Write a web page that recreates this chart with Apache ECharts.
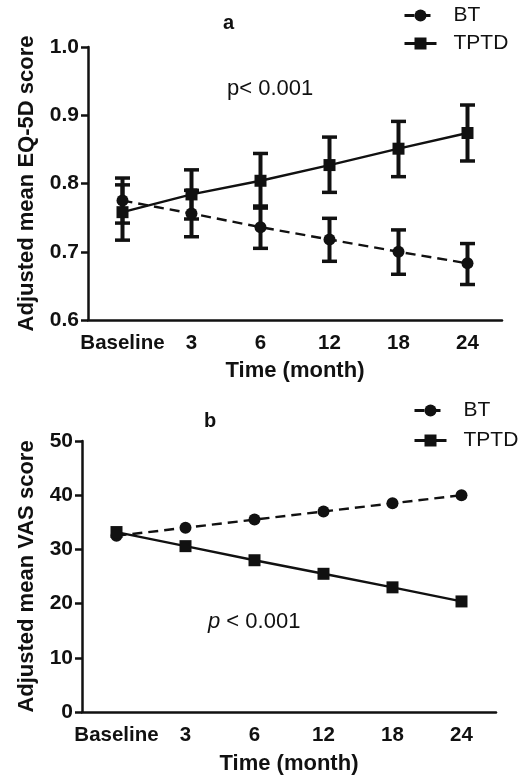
<!DOCTYPE html>
<html>
<head>
<meta charset="utf-8">
<script src="https://cdn.jsdelivr.net/npm/echarts@6/dist/echarts.min.js"></script>
<style>
html,body{margin:0;padding:0;background:#fff;}
#c{width:518px;height:776px;}
</style>
</head>
<body>
<div id="c"></div>
<script>
const categories = ['Baseline', '3', '6', '12', '18', '24'];
// Panel a: EQ-5D
const btA = [0.775, 0.756, 0.736, 0.718, 0.700, 0.683];
const btALow = [0.742, 0.722, 0.705, 0.686, 0.667, 0.652];
const btAHigh = [0.808, 0.790, 0.767, 0.749, 0.732, 0.712];
const tptdA = [0.758, 0.784, 0.804, 0.827, 0.851, 0.874];
const tptdALow = [0.717, 0.748, 0.764, 0.787, 0.810, 0.833];
const tptdAHigh = [0.798, 0.820, 0.844, 0.868, 0.891, 0.915];
// Panel b: VAS
const btB = [32.5, 34.0, 35.5, 37.0, 38.5, 40.0];
const tptdB = [33.2, 30.6, 28.0, 25.5, 23.0, 20.4];
const yTicksA = [0.6, 0.7, 0.8, 0.9, 1.0];
const yTicksB = [0, 10, 20, 30, 40, 50];

const FONT = '"Liberation Sans", Arial, sans-serif';
const INK = '#111';

function errData(low, high){ return low.map((l,i)=>[i, l, high[i]]); }
function renderErr(params, api){
  const x = api.value(0);
  const pLo = api.coord([x, api.value(1)]);
  const pHi = api.coord([x, api.value(2)]);
  const hw = 7.5;
  return {type:'group', children:[
    {type:'line', shape:{x1:pLo[0], y1:pLo[1], x2:pHi[0], y2:pHi[1]}, style:{stroke:INK, lineWidth:4}},
    {type:'line', shape:{x1:pLo[0]-hw, y1:pLo[1], x2:pLo[0]+hw, y2:pLo[1]}, style:{stroke:INK, lineWidth:3.5}},
    {type:'line', shape:{x1:pHi[0]-hw, y1:pHi[1], x2:pHi[0]+hw, y2:pHi[1]}, style:{stroke:INK, lineWidth:3.5}}
  ]};
}

function xAxis(gi){
  return {
    type:'category', gridIndex:gi, data:categories, boundaryGap:true,
    name:'Time (month)', nameLocation:'middle', nameGap: gi===0?40:41,
    nameTextStyle:{fontFamily:FONT, fontWeight:'bold', fontSize:22, color:INK},
    axisLine:{lineStyle:{color:INK, width:2.5}},
    axisTick:{alignWithLabel:true, length:7, lineStyle:{color:INK, width:2.5}},
    axisLabel:{fontFamily:FONT, fontWeight:'bold', fontSize:20.5, color:INK, margin:13, interval:0},
    splitLine:{show:false}
  };
}
function yAxis(gi, name, min, max, interval, dec, gap){
  return {
    type:'value', gridIndex:gi, min:min, max:max, interval:interval,
    name:name, nameLocation:'middle', nameGap:gap, nameRotate:90,
    nameTextStyle:{fontFamily:FONT, fontWeight:'bold', fontSize:22, color:INK},
    axisLine:{show:true, lineStyle:{color:INK, width:2.5}},
    axisTick:{show:true, length:7, lineStyle:{color:INK, width:2.5}},
    axisLabel:{fontFamily:FONT, fontWeight:'bold', fontSize:21, color:INK, margin:9,
      formatter: v => v.toFixed(dec)},
    splitLine:{show:false}
  };
}
function lineSeries(name, data, gi, dashed, symbol){
  return {
    type:'line', name:name, xAxisIndex:gi, yAxisIndex:gi, data:data,
    symbol:symbol, symbolSize:12, z:5,
    lineStyle:{color:INK, width:2.4, type: dashed ? [10,6] : 'solid'},
    itemStyle:{color:INK}
  };
}
function legend(top, left, gap){
  return {
    orient:'vertical', top:top, left:left, padding:0, itemWidth:32, itemHeight:15, itemGap:gap,
    data:['BT','TPTD'],
    lineStyle:{width:3},
    textStyle:{fontFamily:FONT, fontSize:21, color:INK, padding:[0,0,0,12]}
  };
}

const chart = echarts.init(document.getElementById('c'), null, {renderer:'canvas'});
chart.setOption({
  backgroundColor:'#fff',
  animation:false,
  grid:[
    {left:88, top:47, width:414, height:273},
    {left:82, top:441, width:414, height:272}
  ],
  xAxis:[xAxis(0), xAxis(1)],
  yAxis:[
    yAxis(0, 'Adjusted mean EQ-5D score', yTicksA[0], yTicksA[yTicksA.length-1], 0.1, 1, 50),
    yAxis(1, 'Adjusted mean VAS score', yTicksB[0], yTicksB[yTicksB.length-1], 10, 0, 44)
  ],
  legend:[legend(5, 403, 7), legend(400, 413, 9)],
  graphic:[
    {type:'text', left:223, top:13, style:{text:'a', font:'bold 20px '+FONT, fill:INK}},
    {type:'text', left:204, top:411, style:{text:'b', font:'bold 20px '+FONT, fill:INK}},
    {type:'text', left:227, top:78, style:{text:'p< 0.001', font:'22px '+FONT, fill:INK}},
    {type:'text', left:208, top:611, style:{
      text:'{i|p} < 0.001', font:'22px '+FONT, fill:INK,
      rich:{i:{fontStyle:'italic', fontFamily:FONT, fontSize:22, fill:INK}}
    }}
  ],
  series:[
    {type:'custom', name:'errBT', xAxisIndex:0, yAxisIndex:0, renderItem:renderErr, data:errData(btALow, btAHigh), encode:{x:0, y:[1,2]}, z:3},
    {type:'custom', name:'errTPTD', xAxisIndex:0, yAxisIndex:0, renderItem:renderErr, data:errData(tptdALow, tptdAHigh), encode:{x:0, y:[1,2]}, z:3},
    lineSeries('BT', btA, 0, true, 'circle'),
    lineSeries('TPTD', tptdA, 0, false, 'rect'),
    lineSeries('BT', btB, 1, true, 'circle'),
    lineSeries('TPTD', tptdB, 1, false, 'rect')
  ]
});
</script>
</body>
</html>
